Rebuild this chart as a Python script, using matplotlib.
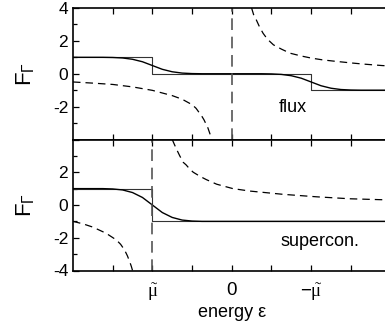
import matplotlib
matplotlib.use("Agg")
import matplotlib.pyplot as plt
from matplotlib.ticker import MultipleLocator

plt.rcParams['font.family'] = ['Liberation Sans', 'DejaVu Sans']
plt.rcParams['axes.unicode_minus'] = False
plt.rcParams['mathtext.fontset'] = 'custom'
plt.rcParams['mathtext.rm'] = 'Liberation Sans'
plt.rcParams['mathtext.sf'] = 'Liberation Serif'
plt.rcParams['mathtext.default'] = 'regular'

# ---- data ----
mu_t = -2.0  # position of mu-tilde on energy axis

# top panel (flux)
flux_step_x = [-4, -2, -2, 2, 2, 4]
flux_step_y = [1, 1, 0, 0, -1, -1]
flux_smooth_x = [-4, -3.25, -3, -2.75, -2.5, -2.25, -2, -1.75, -1.5, -1.25, -1, -0.75,
                 0.75, 1, 1.25, 1.5, 1.75, 2, 2.25, 2.5, 2.75, 3, 3.25, 4]
flux_smooth_y = [1, 1, 0.99, 0.96, 0.88, 0.73, 0.5, 0.27, 0.12, 0.04, 0.01, 0,
                 0, -0.01, -0.04, -0.12, -0.27, -0.5, -0.73, -0.88, -0.96, -0.99, -1, -1]
flux_dash_l_x = [-4, -3.5, -3, -2.5, -2, -1.5, -1.25, -1.0, -0.9, -0.75, -0.7, -0.6, -0.55, -0.51]
flux_dash_l_y = [-0.5, -0.57, -0.65, -0.8, -1.01, -1.33, -1.55, -1.88, -2.1, -2.6, -2.8, -3.3, -3.65, -4.0]
flux_dash_r_x = [0.5, 0.55, 0.62, 0.7, 0.79, 0.9, 1.05, 1.25, 1.47, 1.75, 2.01, 2.3, 2.64, 3.0, 3.31, 3.78, 4.0]
flux_dash_r_y = [4.0, 3.6, 3.27, 2.85, 2.46, 2.1, 1.76, 1.5, 1.25, 1.08, 0.95, 0.84, 0.75, 0.66, 0.59, 0.5, 0.47]

# bottom panel (supercon.)
sc_step_x = [-4, -2, -2, 4]
sc_step_y = [1, 1, -1, -1]
sc_smooth_x = [-4, -3.25, -3, -2.75, -2.5, -2.25, -2, -1.75, -1.5, -1.25, -1, -0.75, 4]
sc_smooth_y = [1, 1, 0.98, 0.92, 0.76, 0.46, 0, -0.46, -0.76, -0.92, -0.98, -1, -1]
sc_dash_l_x = [-4, -3.75, -3.5, -3.17, -2.91, -2.8, -2.7, -2.63, -2.57, -2.53, -2.5]
sc_dash_l_y = [-1.0, -1.15, -1.35, -1.72, -2.13, -2.4, -2.75, -3.1, -3.47, -3.75, -4.0]
sc_dash_r_x = [-1.5, -1.4, -1.31, -1.22, -1.15, -1.06, -0.97, -0.8, -0.64, -0.38, 0.03, 0.46, 1.3, 2.14, 2.98, 3.82, 4.0]
sc_dash_r_y = [4.0, 3.45, 3.0, 2.6, 2.45, 2.2, 2.0, 1.75, 1.55, 1.27, 1.0, 0.85, 0.65, 0.5, 0.38, 0.32, 0.31]

xtick_pos = [-3, -2, -1, 0, 1, 2, 3]
xtick_labels = ['', r'$\mathsf{\tilde{\mu}}$', '', '0', '', r'$-\mathsf{\tilde{\mu}}$', '']
top_yticks = [4, 2, 0, -2, -4]
top_ylabels = ['4', '2', '0', '-2', '']
bot_yticks = [4, 2, 0, -2, -4]
bot_ylabels = ['', '2', '0', '-2', '-4']

# ---- figure ----
fig = plt.figure(figsize=(3.85, 3.24), dpi=100)
W, H = 385.0, 324.0
left = 73 / W
width = (390.5 - 73) / W
ax1 = fig.add_axes([left, (H - 139.5) / H, width, 131.5 / H])
ax2 = fig.add_axes([left, (H - 270.5) / H, width, 131 / H])

dash = (0, (6, 4))
fs = 12.5

for ax in (ax1, ax2):
    ax.set_xlim(-4, 4)
    ax.set_ylim(-4, 4)
    ax.set_xticks(xtick_pos)
    ax.yaxis.set_minor_locator(MultipleLocator(1))
    ax.tick_params(which='both', direction='in', top=True, right=True, width=0.9)
    ax.tick_params(which='major', length=4.5, labelsize=fs)
    ax.tick_params(which='minor', length=3)
    for s in ax.spines.values():
        s.set_linewidth(1.2)
    ax.set_ylabel(r'F$_\Gamma$', fontsize=16, labelpad=11)

# top panel
ax1.plot(flux_step_x, flux_step_y, color='#333333', lw=0.8)
ax1.plot(flux_smooth_x, flux_smooth_y, color='black', lw=1.0)
ax1.plot(flux_dash_l_x, flux_dash_l_y, color='black', lw=0.9, ls=dash)
ax1.plot(flux_dash_r_x, flux_dash_r_y, color='black', lw=0.9, ls=dash)
ax1.axvline(0, color='#555555', lw=1.2, ls=(0, (7, 4)))
ax1.set_yticks(top_yticks)
ax1.set_yticklabels(top_ylabels)
ax1.tick_params(axis='x', labelbottom=False)
ax1.text(1.55, -2.05, 'flux', fontsize=13, ha='center', va='center')

# bottom panel
ax2.plot(sc_step_x, sc_step_y, color='#333333', lw=0.8)
ax2.plot(sc_smooth_x, sc_smooth_y, color='black', lw=1.0)
ax2.plot(sc_dash_l_x, sc_dash_l_y, color='black', lw=0.9, ls=dash)
ax2.plot(sc_dash_r_x, sc_dash_r_y, color='black', lw=0.9, ls=dash)
ax2.axvline(mu_t, color='#555555', lw=1.2, ls=(0, (7, 4)))
ax2.set_yticks(bot_yticks)
ax2.set_yticklabels(bot_ylabels)
ax2.set_xticklabels(xtick_labels)
ax2.tick_params(axis='x', which='major', pad=8, labelsize=13.5)
ax2.text(2.22, -2.25, 'supercon.', fontsize=13, ha='center', va='center')
ax2.set_xlabel('energy ε', fontsize=13, labelpad=1)

fig.savefig('out.png', dpi=100)
